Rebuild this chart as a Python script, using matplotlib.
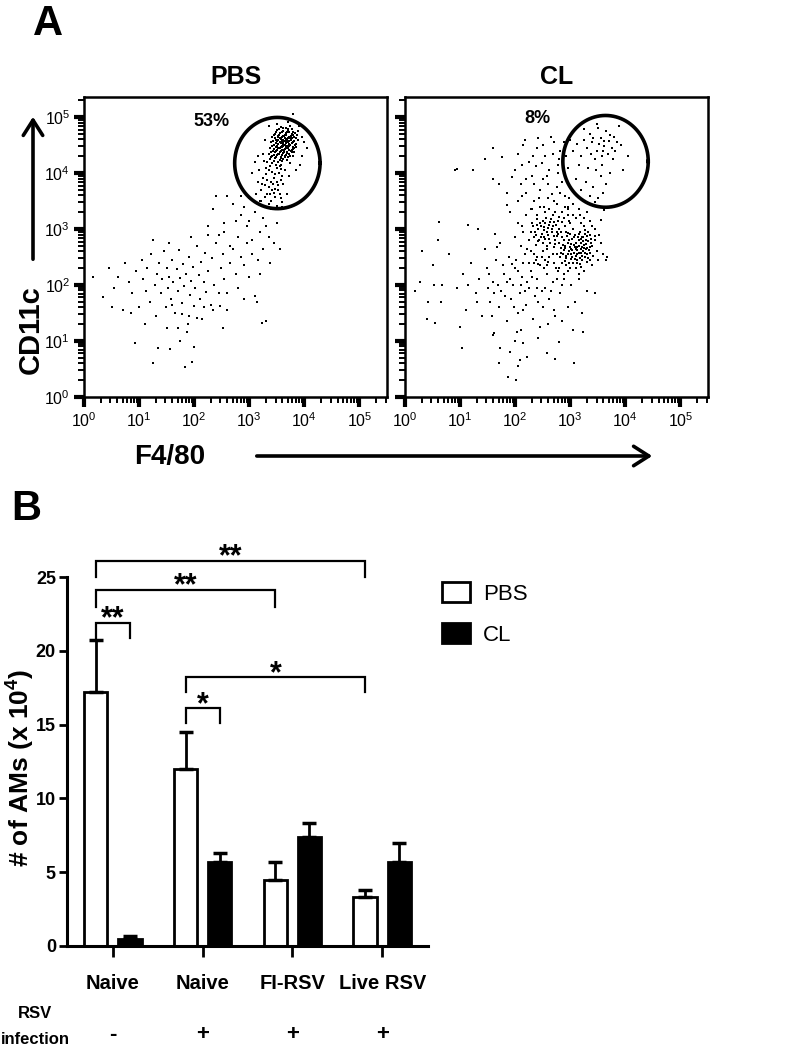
import numpy as np
import matplotlib.pyplot as plt
import matplotlib.transforms as mtransforms
from matplotlib.patches import Patch, FancyArrowPatch
from matplotlib.ticker import LogLocator

plt.rcParams['font.family'] = ['Liberation Sans', 'DejaVu Sans']
plt.rcParams['mathtext.fontset'] = 'custom'
plt.rcParams['mathtext.rm'] = 'Liberation Sans'
plt.rcParams['mathtext.bf'] = 'Liberation Sans:bold'

# ---- panel A: flow events, log10(F4/80), log10(CD11c) ----
pbs_gate = [
    (3.58, 4.83), (3.66, 4.80), (3.74, 4.84),
    (3.50, 4.77), (3.62, 4.75), (3.70, 4.78), (3.80, 4.74),
    (3.46, 4.70), (3.56, 4.72), (3.64, 4.69), (3.69, 4.73), (3.77, 4.70), (3.86, 4.68),
    (3.42, 4.65), (3.52, 4.67), (3.59, 4.64), (3.63, 4.66), (3.71, 4.63), (3.75, 4.67), (3.82, 4.65),
    (3.48, 4.60), (3.55, 4.62), (3.61, 4.59), (3.66, 4.61), (3.70, 4.58), (3.78, 4.62), (3.88, 4.60),
    (3.40, 4.55), (3.50, 4.57), (3.57, 4.54), (3.62, 4.56), (3.67, 4.53), (3.73, 4.57), (3.80, 4.55), (3.85, 4.52),
    (3.45, 4.50), (3.53, 4.52), (3.59, 4.49), (3.64, 4.51), (3.69, 4.48), (3.74, 4.50), (3.79, 4.47),
    (3.38, 4.45), (3.48, 4.47), (3.55, 4.44), (3.60, 4.46), (3.65, 4.43), (3.71, 4.45), (3.77, 4.42), (3.84, 4.46),
    (3.43, 4.40), (3.51, 4.42), (3.58, 4.39), (3.63, 4.41), (3.68, 4.38), (3.75, 4.40), (3.81, 4.37),
    (3.36, 4.35), (3.47, 4.37), (3.54, 4.34), (3.61, 4.36), (3.66, 4.33), (3.72, 4.35),
    (3.41, 4.30), (3.50, 4.32), (3.57, 4.29), (3.64, 4.31), (3.70, 4.28), (3.79, 4.30),
    (3.38, 4.25), (3.46, 4.27), (3.55, 4.24), (3.62, 4.26), (3.68, 4.23),
    (3.33, 4.20), (3.44, 4.22), (3.52, 4.19), (3.60, 4.21), (3.74, 4.18),
    (3.30, 4.10), (3.42, 4.02), (3.25, 3.92), (3.50, 3.85), (3.36, 3.75), (3.55, 4.12), (3.18, 4.05),
    (3.45, 3.65), (3.60, 3.95), (3.28, 3.58), (3.40, 3.50), (3.52, 3.70), (3.33, 3.88), (3.22, 3.70),
    (3.48, 4.15), (3.62, 3.80), (3.38, 4.13), (3.15, 3.85), (3.57, 3.55), (3.44, 3.92), (3.10, 4.20),
    (3.35, 3.45), (3.50, 3.42), (3.26, 4.22), (3.65, 4.05), (3.58, 4.08), (3.20, 3.50), (3.43, 3.80),
    (3.68, 3.62), (3.30, 3.98), (3.05, 4.00), (3.12, 3.62), (3.72, 3.95), (3.47, 3.58), (3.36, 4.06),
    (3.54, 4.00), (3.24, 3.80), (3.41, 3.70), (3.60, 3.48), (3.32, 3.62),
    (3.90, 4.85), (3.95, 4.30), (3.88, 4.75), (4.00, 4.55), (3.35, 4.85), (3.80, 5.05), (3.92, 4.15),
    (3.85, 4.05), (3.28, 4.60), (3.25, 4.35), (4.05, 4.45), (3.70, 4.92), (3.50, 4.88), (3.95, 4.65),
    (3.15, 4.30),
]
pbs_core = [
    (3.54, 4.79), (3.62, 4.81), (3.70, 4.76), (3.78, 4.79),
    (3.49, 4.74), (3.60, 4.73), (3.67, 4.71), (3.73, 4.74), (3.83, 4.72),
    (3.44, 4.68), (3.54, 4.69), (3.61, 4.67), (3.67, 4.68), (3.73, 4.65), (3.79, 4.68),
    (3.46, 4.63), (3.53, 4.64), (3.58, 4.61), (3.64, 4.63), (3.68, 4.60), (3.74, 4.63), (3.84, 4.62),
    (3.43, 4.58), (3.52, 4.59), (3.59, 4.57), (3.65, 4.58), (3.70, 4.55), (3.76, 4.59), (3.82, 4.57),
    (3.48, 4.53), (3.55, 4.55), (3.61, 4.52), (3.66, 4.55), (3.72, 4.52), (3.77, 4.54), (3.83, 4.50),
    (3.42, 4.48), (3.51, 4.49), (3.57, 4.47), (3.62, 4.48), (3.67, 4.46), (3.73, 4.48), (3.81, 4.44),
    (3.45, 4.43), (3.53, 4.45), (3.60, 4.42), (3.66, 4.44), (3.72, 4.41), (3.79, 4.43),
    (3.40, 4.38), (3.49, 4.39), (3.56, 4.37), (3.63, 4.38), (3.69, 4.36), (3.77, 4.37),
    (3.44, 4.33), (3.52, 4.34), (3.59, 4.32), (3.67, 4.33), (3.74, 4.31),
    (3.39, 4.28), (3.48, 4.29), (3.58, 4.27), (3.65, 4.28),
    (3.42, 4.18), (3.50, 4.10), (3.58, 4.15), (3.35, 4.05), (3.46, 3.98), (3.28, 3.78), (3.39, 3.85),
    (3.52, 3.78), (3.58, 3.88), (3.47, 3.72), (3.38, 3.62), (3.55, 3.62),
]
pbs_tail = [
    (2.35, 3.35), (2.55, 3.10), (2.70, 3.45), (2.85, 3.25), (3.00, 3.55), (3.10, 3.30), (2.95, 3.05),
    (3.25, 3.20), (3.40, 3.35), (3.20, 2.95), (2.60, 3.60), (2.80, 2.85), (3.05, 2.80), (3.30, 3.05),
    (2.45, 2.90), (3.15, 3.45), (2.90, 3.40), (3.35, 2.85), (2.75, 3.15), (3.50, 3.10), (2.25, 3.05),
    (3.45, 2.75), (2.65, 2.70), (3.00, 3.15), (3.60, 3.40), (2.40, 3.60), (3.55, 2.65), (2.85, 3.60),
    (3.22, 3.50), (2.55, 2.95),
]
pbs_low = [
    (0.17, 2.14), (0.35, 1.78), (0.45, 2.30), (0.55, 1.95), (0.62, 2.15), (0.70, 1.55), (0.75, 2.40),
    (0.82, 2.05), (0.88, 1.85), (0.95, 2.25), (1.00, 1.60), (1.05, 2.45), (1.08, 2.10), (1.12, 1.90),
    (1.15, 2.30), (1.20, 1.70), (1.22, 2.55), (1.28, 2.00), (1.30, 1.45), (1.33, 2.20), (1.36, 2.40),
    (1.40, 1.85), (1.42, 2.10), (1.45, 2.60), (1.48, 1.60), (1.50, 2.30), (1.52, 1.95), (1.55, 2.15),
    (1.58, 1.75), (1.60, 2.45), (1.62, 2.05), (1.65, 1.50), (1.68, 2.28), (1.70, 1.90), (1.72, 2.62),
    (1.75, 2.12), (1.78, 1.68), (1.80, 2.38), (1.82, 1.98), (1.85, 2.20), (1.88, 1.30), (1.90, 2.50),
    (1.92, 1.82), (1.95, 2.08), (1.98, 2.32), (2.00, 1.62), (2.02, 1.95), (2.05, 2.70), (2.08, 2.18),
    (2.10, 1.75), (2.12, 2.42), (2.15, 1.40), (2.18, 2.05), (2.20, 2.58), (2.22, 1.88), (2.25, 2.25),
    (2.30, 1.65), (2.33, 2.48), (2.36, 2.00), (2.40, 2.75), (2.45, 1.85), (2.48, 2.30), (2.52, 2.55),
    (2.55, 2.10), (2.60, 1.55), (2.65, 2.40), (2.70, 2.65), (2.75, 2.20), (2.80, 1.95), (2.85, 2.50),
    (2.90, 2.35), (2.95, 2.75), (3.00, 2.15), (3.05, 2.55), (3.10, 1.80), (3.15, 2.45), (3.20, 2.20),
    (3.25, 2.65), (3.30, 1.35), (3.38, 2.40), (0.93, 0.96), (1.35, 0.87), (1.26, 0.61), (1.56, 0.86),
    (1.75, 1.00), (1.84, 0.54), (1.96, 0.63), (1.99, 0.90), (1.50, 1.24), (1.71, 1.24), (1.87, 1.16),
    (2.53, 1.24), (3.23, 1.33), (2.17, 1.61), (2.35, 1.55), (2.47, 1.62), (3.14, 1.70), (1.60, 1.64),
    (1.78, 1.48), (1.90, 1.44), (2.05, 1.41), (0.50, 1.60), (0.85, 1.50), (1.10, 1.30), (2.60, 1.85),
    (2.90, 1.75), (1.25, 2.80), (1.55, 2.75), (1.95, 2.85), (2.25, 2.90),
]
cl_gate = [
    (3.40, 4.55), (3.55, 4.62), (3.62, 4.48), (3.48, 4.40), (3.70, 4.58), (3.58, 4.30), (3.35, 4.70),
    (3.65, 4.75), (3.75, 4.45), (3.52, 4.52), (3.44, 4.25), (3.80, 4.65), (3.60, 4.40), (3.30, 4.45),
    (3.68, 4.35), (3.50, 4.80), (3.85, 4.55), (3.42, 4.62), (3.57, 4.15), (3.72, 4.68), (3.38, 4.35),
    (3.62, 4.58), (3.25, 4.60), (3.92, 4.50), (3.46, 4.05), (3.20, 4.30), (3.78, 4.25), (3.33, 4.10),
    (3.55, 3.95), (3.15, 4.15), (3.28, 3.85), (3.42, 3.75), (3.60, 3.65), (3.10, 3.90), (3.50, 3.55),
    (3.35, 3.60), (3.20, 3.70), (3.65, 3.80), (3.05, 4.40), (3.00, 4.60), (4.05, 4.30), (3.95, 4.05),
    (3.88, 4.85), (3.48, 4.88), (3.12, 4.52), (3.72, 4.00), (3.25, 4.78), (3.82, 4.40), (3.45, 3.48),
    (3.08, 3.65),
]
cl_upper = [
    (0.94, 4.08), (1.60, 4.44), (1.76, 4.29), (2.18, 4.59), (1.94, 3.93), (2.05, 4.35), (2.25, 4.20),
    (2.40, 4.45), (2.30, 3.95), (2.55, 4.30), (2.62, 4.05), (2.70, 4.55), (2.80, 4.25), (2.85, 3.85),
    (2.95, 4.10), (2.45, 3.70), (2.60, 3.55), (2.75, 3.75), (2.90, 3.60), (2.20, 3.65), (2.35, 3.50),
    (2.50, 3.90), (2.10, 3.80), (1.85, 3.65), (2.00, 4.05), (2.65, 4.65), (2.82, 4.40), (2.95, 3.40),
    (3.05, 3.45), (2.15, 4.50), (1.45, 4.25), (1.70, 3.80), (2.38, 4.12), (2.52, 3.40), (2.72, 3.30),
    (2.88, 3.20), (2.28, 3.35), (2.05, 3.50), (1.90, 3.30), (2.58, 3.95), (2.42, 4.62), (2.78, 4.00),
    (3.00, 3.75), (2.67, 3.62), (2.12, 4.15), (0.91, 4.05), (1.24, 4.05), (1.60, 3.90), (1.85, 3.43),
    (2.32, 4.30), (2.48, 4.18), (2.68, 4.35), (2.88, 4.55), (2.20, 3.90), (2.60, 3.80), (2.82, 3.65),
    (2.44, 3.55), (2.70, 3.50), (2.98, 3.55), (2.50, 4.50), (2.92, 4.30), (2.12, 3.60), (2.35, 3.80),
    (2.78, 4.15),
]
cl_core = [
    (2.82, 2.50), (2.88, 2.62), (2.95, 2.75), (3.02, 2.55), (3.08, 2.68), (3.15, 2.80), (3.20, 2.58),
    (3.25, 2.72), (3.30, 2.88), (2.85, 2.85), (2.92, 2.48), (3.00, 2.92), (3.05, 2.40), (3.12, 2.62),
    (3.18, 2.95), (3.22, 2.45), (3.28, 2.65), (3.33, 2.78), (2.90, 2.70), (2.97, 2.60), (3.03, 2.82),
    (3.10, 2.52), (3.16, 2.70), (3.24, 2.85), (3.31, 2.55), (2.84, 2.95), (2.94, 2.88), (3.06, 2.72),
    (3.13, 2.44), (3.20, 2.76), (3.27, 2.50), (3.35, 2.68), (2.87, 2.56), (2.99, 2.68), (3.09, 2.90),
    (3.19, 2.64), (3.26, 2.92), (3.38, 2.82), (2.80, 2.75), (3.04, 2.62), (3.14, 2.85), (3.23, 2.60),
    (3.32, 2.95), (2.93, 2.52), (3.01, 2.46), (3.11, 2.75), (3.21, 2.52), (3.29, 2.74), (3.36, 2.58),
    (2.89, 2.80), (3.07, 2.58), (3.17, 2.48), (3.25, 2.66), (2.96, 2.93), (3.40, 2.70), (3.44, 2.88),
    (3.42, 2.52), (2.98, 2.40), (3.18, 2.38), (3.30, 2.42),
    (2.35, 2.85), (2.42, 3.00), (2.50, 2.75), (2.55, 3.10), (2.60, 2.90), (2.68, 3.05), (2.72, 2.80),
    (2.78, 3.15), (2.40, 3.18), (2.48, 2.92), (2.58, 2.70), (2.65, 3.18), (2.75, 2.95), (2.38, 2.72),
    (2.45, 3.10), (2.52, 2.98), (2.62, 2.82), (2.70, 2.68), (2.33, 3.05), (2.56, 3.20), (2.66, 2.95),
    (2.44, 2.80), (2.74, 3.08), (2.50, 3.15), (2.60, 3.02), (2.80, 3.00), (2.36, 2.95), (2.70, 2.88),
    (2.53, 2.86), (2.63, 3.12),
    (2.20, 3.25), (2.28, 2.60), (2.85, 3.30), (3.00, 3.10), (3.10, 3.20), (3.25, 3.05), (3.35, 3.15),
    (3.45, 3.00), (2.90, 3.40), (2.75, 3.45), (2.62, 3.35), (2.45, 3.40), (2.15, 2.95), (2.05, 3.10),
    (2.25, 2.40), (2.40, 2.50), (2.55, 2.45), (2.70, 2.40), (2.80, 2.30), (2.95, 2.25), (3.10, 2.30),
    (3.25, 2.25), (3.40, 2.35), (3.48, 2.60), (3.50, 2.45), (2.10, 2.70), (2.00, 2.85), (2.30, 3.35),
    (3.15, 3.35), (3.30, 3.30), (2.95, 3.25), (3.05, 3.00), (2.68, 2.55), (2.50, 2.60), (2.35, 2.55),
    (2.18, 2.55), (3.55, 2.75), (3.60, 2.55), (3.20, 3.10), (2.85, 3.12), (3.67, 2.51), (3.55, 3.16),
    (3.61, 3.34),
    (2.84, 2.58), (2.91, 2.66), (2.97, 2.80), (3.04, 2.50), (3.10, 2.64), (3.16, 2.58), (3.22, 2.68),
    (3.28, 2.80), (3.34, 2.62), (2.86, 2.72), (2.93, 2.94), (3.01, 2.74), (3.07, 2.86), (3.13, 2.68),
    (3.19, 2.82), (3.26, 2.58), (3.32, 2.48), (3.38, 2.76), (2.83, 2.66), (2.95, 2.56), (3.02, 2.64),
    (3.09, 2.46), (3.15, 2.92), (3.21, 2.86), (3.27, 2.98), (3.36, 2.90), (2.90, 2.43), (3.12, 2.56),
    (3.24, 2.78), (3.30, 2.66),
    (2.38, 2.90), (2.46, 2.86), (2.52, 3.04), (2.58, 2.94), (2.64, 2.76), (2.70, 3.12), (2.76, 2.88),
    (2.42, 2.78), (2.55, 2.82), (2.67, 3.00), (2.47, 3.05), (2.62, 3.08), (2.72, 2.74), (2.78, 2.92),
    (2.40, 3.08), (2.58, 2.64),
    (2.25, 2.80), (2.30, 3.10), (2.22, 2.65), (2.48, 2.50), (2.62, 2.50), (2.75, 2.55), (2.85, 2.40),
    (3.00, 2.30), (3.15, 2.20), (3.35, 2.45), (3.45, 2.80), (3.40, 3.05), (3.25, 3.20), (3.05, 3.25),
    (2.90, 3.05), (2.98, 3.15), (2.80, 3.22), (2.68, 3.25), (2.55, 3.30), (2.40, 3.25), (2.12, 3.05),
    (2.28, 2.95), (2.95, 3.35), (3.18, 3.25), (3.52, 2.90), (2.58, 2.35), (2.42, 2.38), (2.74, 2.30),
    (2.88, 2.20), (3.20, 2.32),
]
cl_low = [
    (0.27, 2.05), (0.50, 2.35), (0.65, 1.70), (0.80, 2.55), (0.95, 1.95), (1.05, 2.20), (1.10, 1.55),
    (1.20, 2.40), (1.28, 1.85), (1.35, 2.10), (1.40, 1.45), (1.48, 2.30), (1.55, 1.70), (1.60, 2.05),
    (1.65, 2.45), (1.70, 1.60), (1.75, 1.90), (1.80, 2.20), (1.85, 1.35), (1.88, 2.50), (1.92, 1.75),
    (1.96, 2.00), (2.00, 2.30), (2.05, 1.50), (2.08, 1.85), (2.12, 2.15), (2.15, 2.40), (2.20, 1.65),
    (2.25, 1.95), (2.28, 2.25), (2.32, 1.40), (2.36, 1.80), (2.40, 2.10), (2.45, 2.35), (2.50, 1.60),
    (2.55, 1.95), (2.58, 2.20), (2.62, 1.75), (2.68, 2.05), (2.72, 1.45), (2.78, 2.25), (2.82, 1.85),
    (2.88, 2.10), (2.95, 1.60), (3.02, 2.00), (3.08, 1.70), (3.15, 2.10), (3.22, 1.50), (3.30, 1.90),
    (2.45, 1.25), (2.60, 1.30), (2.10, 1.20), (1.62, 1.15), (2.85, 1.35), (3.05, 1.20), (1.30, 1.70),
    (1.50, 1.95), (1.78, 2.35), (2.02, 2.45), (2.22, 2.05), (2.48, 1.90), (2.70, 1.55), (2.92, 2.35),
    (3.12, 2.40), (1.15, 2.00), (0.60, 2.80), (0.40, 1.40), (1.00, 1.25), (1.45, 2.65), (1.72, 2.75),
    (3.65, 2.45), (3.45, 1.85), (2.38, 2.45), (1.98, 1.60), (1.58, 1.45),
    (1.03, 0.87), (1.59, 1.11), (1.72, 0.87), (1.70, 0.60), (1.87, 0.36), (2.02, 0.30), (1.90, 0.81),
    (2.00, 1.00), (2.14, 0.96), (2.08, 0.66), (2.06, 0.56), (2.21, 0.72), (2.41, 1.06), (2.58, 0.79),
    (2.73, 0.68), (2.80, 0.99), (3.07, 0.61), (3.23, 1.17), (2.03, 1.17),
    (0.31, 2.60), (0.67, 2.00), (0.18, 1.90), (0.52, 2.00), (0.42, 1.70), (0.55, 1.32), (0.62, 3.13),
    (1.15, 3.07), (1.33, 3.01), (1.64, 2.92), (1.67, 2.68),
    (1.52, 2.20), (1.68, 2.00), (1.82, 1.80), (1.90, 2.10), (2.05, 2.25), (2.18, 1.90), (2.30, 2.15),
    (2.42, 1.70), (2.52, 2.30), (2.65, 1.90), (2.75, 2.10), (2.85, 2.00), (1.62, 1.85), (1.95, 2.38),
    (2.15, 1.55), (2.35, 2.40), (2.60, 2.42), (2.40, 1.95), (2.10, 2.00), (1.85, 2.05),
]
pbs_pct = '53%'
cl_pct = '8%'
# gate: centre (log x, log y), half widths (decades)
pbs_gate_shape = (3.51, 4.18, 0.775, 0.815)
cl_gate_shape = (3.64, 4.21, 0.775, 0.82)

# ---- panel B: AM counts (x 10^4) ----
groups = ['Naive', 'Naive', 'FI-RSV', 'Live RSV']
infection = ['-', '+', '+', '+']
pbs_mean = [17.2, 12.0, 4.5, 3.3]
pbs_err = [3.5, 2.5, 1.2, 0.5]
cl_mean = [0.5, 5.7, 7.4, 5.7]
cl_err = [0.2, 0.6, 0.9, 1.3]
# brackets: (group a, series a, group b, series b, line height, leg drop, label)
brackets = [
    (0, 'PBS', 3, 'PBS', 26.1, 1.1, '**'),
    (0, 'PBS', 2, 'PBS', 24.1, 1.1, '**'),
    (0, 'PBS', 0, 'CL', 21.9, 1.0, '**'),
    (1, 'PBS', 3, 'PBS', 18.2, 1.0, '*'),
    (1, 'PBS', 1, 'CL', 16.1, 1.0, '*'),
]

W, H = 807, 1050


def fx(px):
    return px / W


def fy(py):
    return 1 - py / H


fig = plt.figure(figsize=(W / 100, H / 100), dpi=100)


def flow_panel(ax, pts, title, pct, pct_pos, gate, ylabels):
    lx = np.array([p[0] for p in pts])
    ly = np.array([p[1] for p in pts])
    ax.scatter(10 ** lx, 10 ** ly, s=1.6, c='black', marker='s', linewidths=0)
    ax.set_xscale('log')
    ax.set_yscale('log')
    ax.set_xlim(1, 10 ** 5.5)
    ax.set_ylim(1, 10 ** 5.36)
    t = np.linspace(0, 2 * np.pi, 300)
    ax.plot(10 ** (gate[0] + gate[2] * np.cos(t)), 10 ** (gate[1] + gate[3] * np.sin(t)),
            color='black', lw=2.6)
    ax.text(10 ** pct_pos[0], 10 ** pct_pos[1], pct, ha='center', va='center',
            fontsize=13, fontweight='bold')
    ax.text(0.5, 1.045, title, transform=ax.transAxes, ha='center', va='baseline',
            fontsize=18, fontweight='bold')
    for axis in (ax.xaxis, ax.yaxis):
        axis.set_major_locator(LogLocator(base=10, numticks=20))
        axis.set_minor_locator(LogLocator(base=10, subs=np.arange(2, 10), numticks=20))
    ax.tick_params(which='major', length=7, width=3, direction='out', labelsize=11.5, pad=3)
    ax.tick_params(which='minor', length=4, width=1.4, direction='out')
    if not ylabels:
        ax.tick_params(axis='y', which='both', labelleft=False)
    for sp in ax.spines.values():
        sp.set_linewidth(1.8)


axA1 = fig.add_axes([fx(84), fy(397), 303 / W, 300 / H])
axA2 = fig.add_axes([fx(405), fy(397), 303 / W, 300 / H])
flow_panel(axA1, pbs_gate + pbs_core + pbs_tail + pbs_low, 'PBS', pbs_pct, (2.31, 4.93),
           pbs_gate_shape, True)
flow_panel(axA2, cl_gate + cl_upper + cl_core + cl_low, 'CL', cl_pct, (2.4, 4.98),
           cl_gate_shape, False)

fig.text(fx(48), fy(24), 'A', fontsize=30, fontweight='bold', ha='center', va='center')
fig.text(fx(31), fy(330), 'CD11c', rotation=90, fontsize=21, fontweight='bold',
         ha='center', va='center')
fig.text(fx(170), fy(457), 'F4/80', fontsize=20, fontweight='bold', ha='center', va='center')
arrow_style = '->,head_length=11,head_width=7'
fig.add_artist(FancyArrowPatch((fx(33), fy(262)), (fx(33), fy(114)), transform=fig.transFigure,
                               arrowstyle=arrow_style, lw=2.6, color='black'))
fig.add_artist(FancyArrowPatch((fx(254), fy(456)), (fx(655), fy(456)), transform=fig.transFigure,
                               arrowstyle=arrow_style, lw=2.6, color='black'))

# ---- panel B ----
axB = fig.add_axes([fx(67), fy(946), 361 / W, 369 / H])
x = np.arange(len(groups))
off, bw = 0.19, 0.26
ekw = dict(elinewidth=2, capsize=5, capthick=2.5, ecolor='black')
axB.bar(x - off, pbs_mean, bw, color='white', edgecolor='black', linewidth=2,
        yerr=[np.zeros(len(groups)), pbs_err], error_kw=ekw)
axB.bar(x + off, cl_mean, bw, color='black', edgecolor='black', linewidth=2,
        yerr=[np.zeros(len(groups)), cl_err], error_kw=ekw)
axB.set_xlim(-0.51, 3.51)
axB.set_ylim(0, 25)
axB.set_yticks([0, 5, 10, 15, 20, 25])
axB.set_xticks(x)
axB.set_xticklabels(groups, fontsize=14.5, fontweight='bold')
for lab in axB.get_yticklabels():
    lab.set_fontsize(13)
    lab.set_fontweight('bold')
axB.tick_params(axis='y', length=6, width=2, pad=2)
axB.tick_params(axis='x', length=8, width=2, pad=12)
axB.spines['top'].set_visible(False)
axB.spines['right'].set_visible(False)
axB.spines['left'].set_linewidth(2.2)
axB.spines['bottom'].set_linewidth(2.2)

pos = {'PBS': -off, 'CL': off}
for ga, sa, gb, sb, yl, drop, lab in brackets:
    xa = ga + pos[sa]
    xb = gb + pos[sb]
    axB.plot([xa, xa, xb, xb], [yl - drop, yl, yl, yl - drop], color='black', lw=1.6,
             clip_on=False, solid_joinstyle='miter')
    axB.text((xa + xb) / 2, yl - 0.3, lab, ha='center', va='baseline', fontsize=22,
             fontweight='bold', clip_on=False)

fig.text(fx(20), fy(768), r'# of AMs (x 10$^{\mathbf{4}}$)', rotation=90, fontsize=19,
         fontweight='bold', ha='center', va='center')
fig.text(fx(26), fy(509), 'B', fontsize=30, fontweight='bold', ha='center', va='center')

handles = [Patch(facecolor='white', edgecolor='black', linewidth=2),
           Patch(facecolor='black', edgecolor='black', linewidth=2)]
fig.legend(handles, ['PBS', 'CL'], loc='upper left', bbox_to_anchor=(fx(442), fy(582)),
           frameon=False, prop={'size': 16}, handlelength=1.25,
           handleheight=1.0, handletextpad=0.6, labelspacing=0.85, borderpad=0,
           borderaxespad=0)

tr = mtransforms.blended_transform_factory(axB.transData, fig.transFigure)
for xi, s in zip(x, infection):
    axB.text(xi, fy(1035), s, transform=tr, ha='center', va='center', fontsize=16,
             fontweight='bold')
fig.text(fx(35), fy(1014), 'RSV', ha='center', va='center', fontsize=12, fontweight='bold')
fig.text(fx(35), fy(1040), 'infection', ha='center', va='center', fontsize=12,
         fontweight='bold')

fig.savefig('out.png', dpi=100)
